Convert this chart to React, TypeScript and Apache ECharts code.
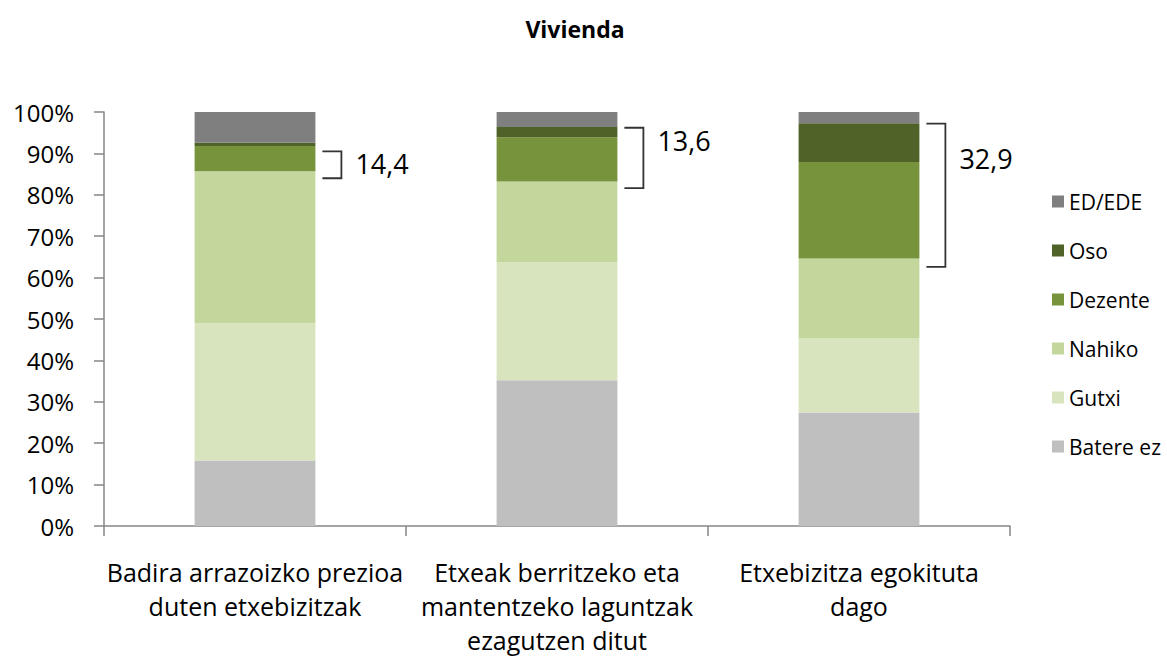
import React, { useEffect, useRef } from "react";
import * as echarts from "echarts";

const categories = [
  "Badira arrazoizko prezioa\nduten etxebizitzak",
  "Etxeak berritzeko eta\nmantentzeko laguntzak\nezagutzen ditut",
  "Etxebizitza egokituta\ndago",
];
const seriesNames = ["Batere ez", "Gutxi", "Nahiko", "Dezente", "Oso", "ED/EDE"];
const bateEz = [15.8, 35.2, 27.4];
const gutxi = [33.2, 28.5, 18.0];
const nahiko = [36.7, 19.5, 19.2];
const dezente = [6.1, 10.7, 23.3];
const oso = [0.8, 2.5, 9.4];
const edEde = [7.4, 3.6, 2.7];
const seriesValues = [bateEz, gutxi, nahiko, dezente, oso, edEde];
const colors = ["#BFBFBF", "#D7E4BD", "#C3D69B", "#77933C", "#4F6228", "#7F7F7F"];
const legendOrder = ["ED/EDE", "Oso", "Dezente", "Nahiko", "Gutxi", "Batere ez"];
const yTicks = [0, 10, 20, 30, 40, 50, 60, 70, 80, 90, 100];

// bracket annotations (values in %)
const bracketLabels = ["14,4", "13,6", "32,9"];
const bracketTop = [90.5, 96.2, 97.2];
const bracketBottom = [84.0, 81.6, 62.6];
const bracketLabelAt = [87.5, 93.2, 88.8];

const FONT = "'Open Sans', 'Noto Sans', sans-serif";

export default function App() {
  const ref = useRef<HTMLDivElement>(null);
  useEffect(() => {
    document.body.style.margin = "0";
    if (!ref.current) return;
    const chart = echarts.init(ref.current, undefined, { renderer: "svg" });
    chart.setOption({
      animation: false,
      textStyle: { fontFamily: FONT },
      title: {
        text: "Vivienda",
        left: 570,
        textAlign: "center",
        top: 12,
        textStyle: { fontFamily: FONT, fontSize: 23, fontWeight: "bold", color: "#000" },
      },
      legend: {
        orient: "vertical",
        left: 1047,
        top: 186,
        itemWidth: 12,
        itemHeight: 12,
        itemGap: 28,
        icon: "rect",
        data: legendOrder,
        textStyle: { fontFamily: FONT, fontSize: 21, color: "#000", lineHeight: 21 },
      },
      grid: { left: 104, right: 157, top: 112, bottom: 121, containLabel: false },
      xAxis: {
        type: "category",
        data: categories,
        axisLine: { lineStyle: { color: "#868686", width: 1.5 } },
        axisTick: { show: true, length: 10, lineStyle: { color: "#868686", width: 1.5 } },
        axisLabel: {
          interval: 0,
          margin: 29,
          fontSize: 25,
          lineHeight: 34,
          color: "#000",
          fontFamily: FONT,
        },
      },
      yAxis: {
        type: "value",
        min: yTicks[0],
        max: yTicks[yTicks.length - 1],
        interval: 10,
        splitLine: { show: false },
        axisLine: { show: true, lineStyle: { color: "#868686", width: 1.5 } },
        axisTick: { show: true, length: 10, lineStyle: { color: "#868686", width: 1.5 } },
        axisLabel: {
          formatter: "{value}%",
          margin: 30,
          fontSize: 24,
          color: "#000",
          fontFamily: FONT,
        },
      },
      series: seriesNames.map((name, i) => ({
        name,
        type: "bar",
        stack: "total",
        barCategoryGap: "60%",
        data: seriesValues[i],
        itemStyle: { color: colors[i] },
        emphasis: { disabled: true },
      })),
    });

    const graphics: any[] = [];
    const p0 = chart.convertToPixel({ gridIndex: 0 }, [0, 0]) as number[];
    const p1 = chart.convertToPixel({ gridIndex: 0 }, [1, 0]) as number[];
    const band = p1[0] - p0[0];
    const halfBar = band * 0.2;
    bracketLabels.forEach((lab, i) => {
      const top = chart.convertToPixel({ gridIndex: 0 }, [i, bracketTop[i]]) as number[];
      const bot = chart.convertToPixel({ gridIndex: 0 }, [i, bracketBottom[i]]) as number[];
      const lp = chart.convertToPixel({ gridIndex: 0 }, [i, bracketLabelAt[i]]) as number[];
      const xs = top[0] + halfBar + 7;
      const xe = xs + 19;
      graphics.push({
        type: "polyline",
        shape: { points: [[xs, top[1]], [xe, top[1]], [xe, bot[1]], [xs, bot[1]]] },
        style: { stroke: "#333", lineWidth: 1.8, fill: null },
        silent: true,
      });
      graphics.push({
        type: "text",
        x: xe + 14,
        y: lp[1],
        style: {
          text: lab,
          fontFamily: FONT,
          fontSize: 27,
          fill: "#000",
          verticalAlign: "middle",
          align: "left",
        },
        silent: true,
      });
    });
    chart.setOption({ graphic: graphics });

    return () => chart.dispose();
  }, []);
  return <div ref={ref} style={{ width: 1167, height: 657 }} />;
}
